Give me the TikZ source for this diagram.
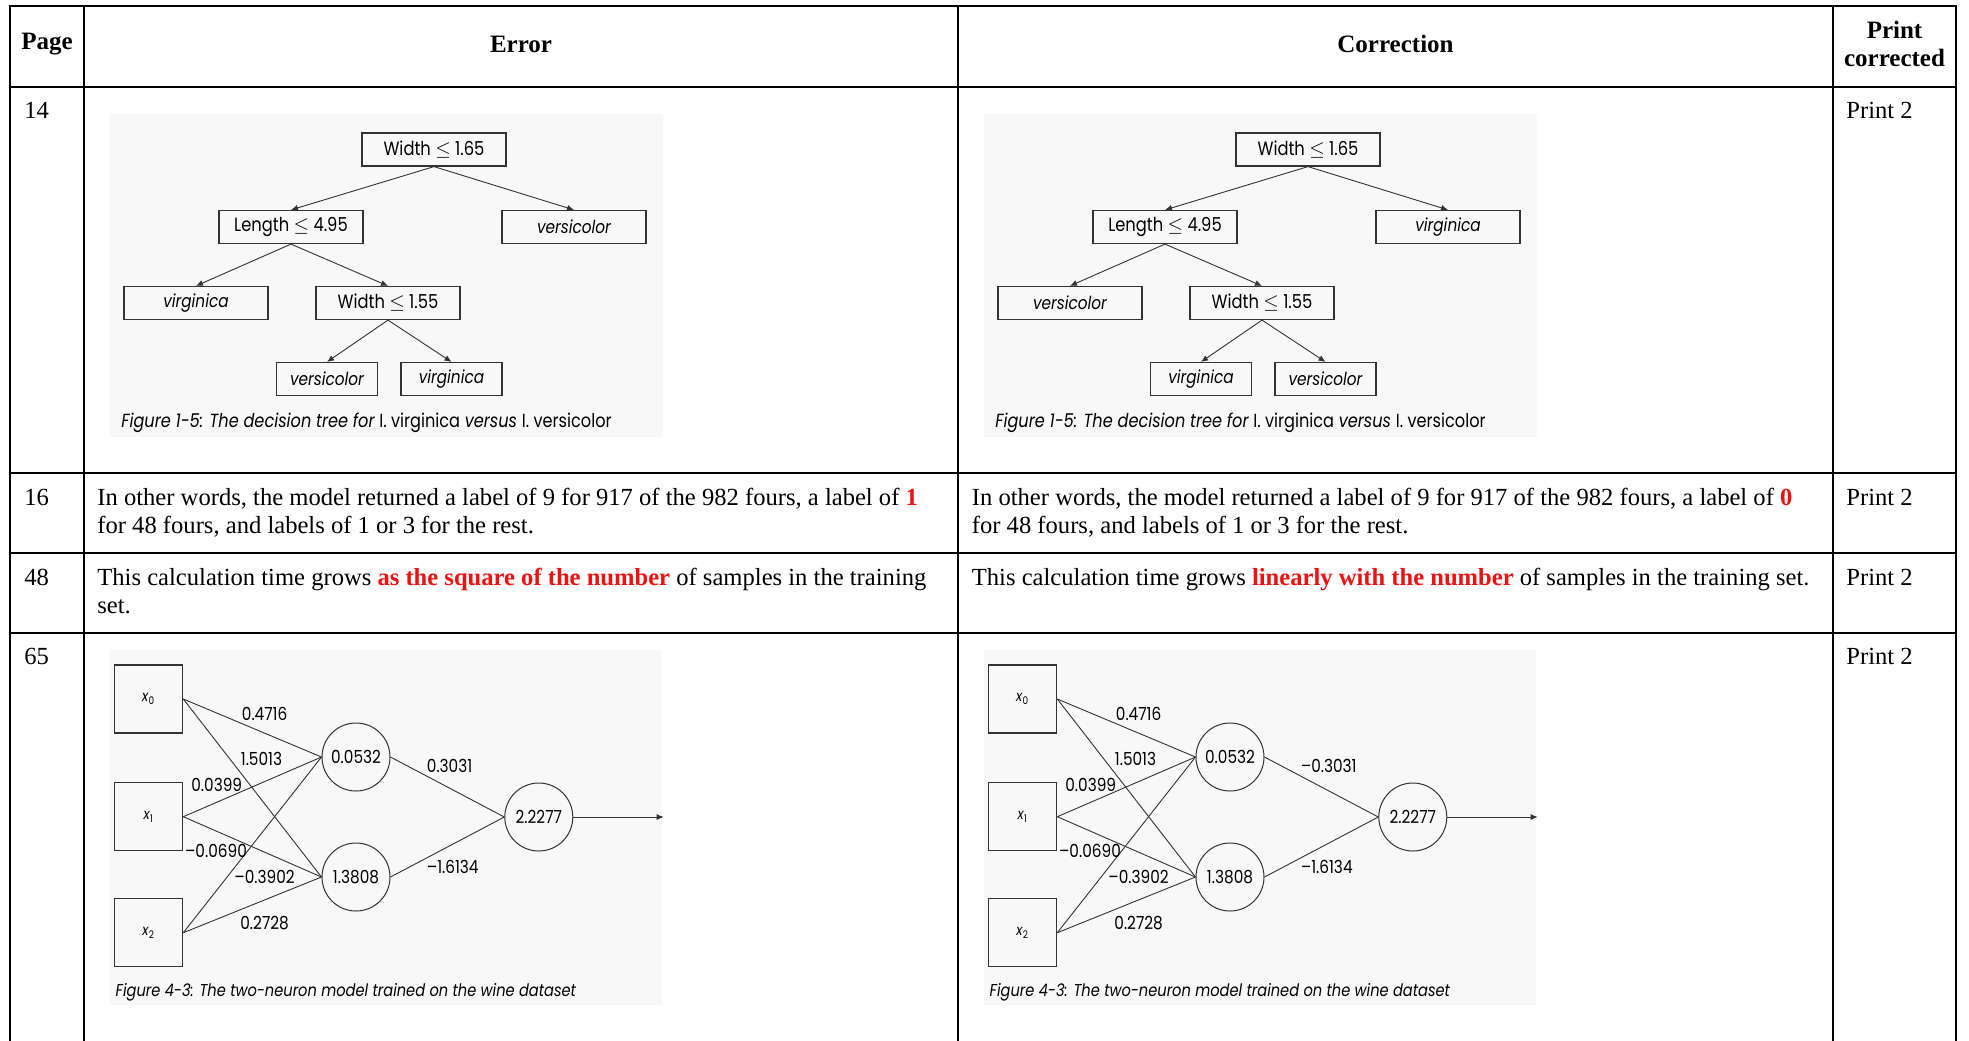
\documentclass[tikz,border=0pt]{standalone}
\usepackage{fontspec}
\setmainfont{Liberation Serif}
\newfontfamily\figfont[FakeStretch=0.85]{Poppins}
\usepackage{xcolor}
\definecolor{cRule}{HTML}{000000}
\definecolor{cRed}{HTML}{EE1111}
\definecolor{cFig}{HTML}{333333}
\definecolor{cFigBg}{HTML}{F8F8F8}
\usepackage{tikz}
\usetikzlibrary{positioning,arrows.meta}
\tikzset{
  table-rule/.style={draw=cRule,line width=1.4pt,line cap=rect},
  head-text/.style={font=\bfseries\fontsize{12.5}{14}\selectfont,align=center,inner sep=0pt},
  cell-text/.style={font=\fontsize{12.3}{14}\selectfont,align=left,anchor=base west,inner sep=0pt},
  fig-bg/.style={fill=cFigBg,draw=none},
  fig-box/.style={draw=cFig,line width=0.6pt,minimum width=72pt,minimum height=16.5pt,
    inner sep=0pt,font=\figfont\fontsize{9.6}{10}\selectfont},
  fig-leaf/.style={fig-box,font=\figfont\itshape\fontsize{9}{10}\selectfont},
  fig-small/.style={minimum width=50.5pt},
  fig-input/.style={draw=cFig,line width=0.6pt,minimum size=34pt,inner sep=0pt,
    font=\figfont\fontsize{7.5}{8}\selectfont},
  fig-neuron/.style={draw=cFig,line width=0.5pt,circle,minimum size=34pt,inner sep=0pt,
    font=\figfont\fontsize{9}{10}\selectfont},
  fig-edge/.style={draw=cFig,line width=0.45pt},
  fig-arrow/.style={fig-edge,-{Latex[length=3.5pt,width=3pt]}},
  fig-weight/.style={font=\figfont\fontsize{9}{10}\selectfont,inner sep=0pt},
  fig-caption/.style={font=\figfont\itshape\fontsize{8.6}{10}\selectfont,anchor=west,inner sep=0pt},
}

\begin{document}
\begin{tikzpicture}[x=0.5pt,y=-0.5pt]
  \useasboundingbox (0,0) rectangle (1969,1040);
  % table rules
  \foreach \y in {6,87,473,553,633}
    \draw[table-rule] (10,\y) -- (1956,\y);
  \foreach \x in {10,84,958,1833,1956}
    \draw[table-rule] (\x,6) -- (\x,1040);

  % header
  \node[head-text] (h-page)  at (47,44)     {Page};
  \node[head-text] (h-err)   at (521,44)    {Error};
  \node[head-text] (h-cor)   at (1395.5,44) {Correction};
  \node[head-text] (h-print) at (1894.5,44) {Print\\corrected};

  % rows (two-line cells sit on their last baseline)
  \node[cell-text] (p14) at (24,118)   {14};
  \node[cell-text] (r14) at (1846,118) {Print 2};
  \node[cell-text] (p16) at (24,505)   {16};
  \node[cell-text] (e16) at (97,533)
    {In other words, the model returned a label of 9 for 917 of the 982 fours, a label of \textcolor{cRed}{\textbf{1}}\\for 48 fours, and labels of 1 or 3 for the rest.};
  \node[cell-text] (c16) at (971.5,533)
    {In other words, the model returned a label of 9 for 917 of the 982 fours, a label of \textcolor{cRed}{\textbf{0}}\\for 48 fours, and labels of 1 or 3 for the rest.};
  \node[cell-text] (r16) at (1846,505) {Print 2};
  \node[cell-text] (p48) at (24,585)   {48};
  \node[cell-text] (e48) at (97,613)
    {This calculation time grows \textcolor{cRed}{\textbf{as the square of the number}} of samples in the training\\set.};
  \node[cell-text] (c48) at (971.5,585)
    {This calculation time grows \textcolor{cRed}{\textbf{linearly with the number}} of samples in the training set.};
  \node[cell-text] (r48) at (1846,585) {Print 2};
  \node[cell-text] (p65) at (24,664)   {65};
  \node[cell-text] (r65) at (1846,664) {Print 2};

  % decision tree, error column
  \fill[fig-bg] (110,114) rectangle (663,437);
  \node[fig-box]  (e-root) at (434,149.5) {Width $\le$ 1.65};
  \node[fig-box]  (e-len)  at (291,227)   {Length $\le$ 4.95};
  \node[fig-leaf] (e-lfR)  at (574,227)   {versicolor};
  \node[fig-leaf] (e-lfL)  at (196,303)   {virginica};
  \node[fig-box]  (e-wid)  at (388,303)   {Width $\le$ 1.55};
  \node[fig-leaf,fig-small] (e-lfA) at (327,379)   {versicolor};
  \node[fig-leaf,fig-small] (e-lfB) at (451.5,379) {virginica};
  \draw[fig-arrow] (e-root.south) -- (e-len.north);
  \draw[fig-arrow] (e-root.south) -- (e-lfR.north);
  \draw[fig-arrow] (e-len.south) -- (e-lfL.north);
  \draw[fig-arrow] (e-len.south) -- (e-wid.north);
  \draw[fig-arrow] (e-wid.south) -- (e-lfA.north);
  \draw[fig-arrow] (e-wid.south) -- (e-lfB.north);
  \node[fig-caption,font=\figfont\itshape\fontsize{9.5}{10}\selectfont] (e-cap1) at (121,423)
    {Figure 1-5: The decision tree for {\upshape I. virginica} versus {\upshape I. versicolor}};

  % decision tree, correction column
  \fill[fig-bg] (984,114) rectangle (1537,437);
  \node[fig-box]  (c-root) at (1308,149.5) {Width $\le$ 1.65};
  \node[fig-box]  (c-len)  at (1165,227)   {Length $\le$ 4.95};
  \node[fig-leaf] (c-lfR)  at (1448,227)   {virginica};
  \node[fig-leaf] (c-lfL)  at (1070,303)   {versicolor};
  \node[fig-box]  (c-wid)  at (1262,303)   {Width $\le$ 1.55};
  \node[fig-leaf,fig-small] (c-lfA) at (1201,379)   {virginica};
  \node[fig-leaf,fig-small] (c-lfB) at (1325.5,379) {versicolor};
  \draw[fig-arrow] (c-root.south) -- (c-len.north);
  \draw[fig-arrow] (c-root.south) -- (c-lfR.north);
  \draw[fig-arrow] (c-len.south) -- (c-lfL.north);
  \draw[fig-arrow] (c-len.south) -- (c-wid.north);
  \draw[fig-arrow] (c-wid.south) -- (c-lfA.north);
  \draw[fig-arrow] (c-wid.south) -- (c-lfB.north);
  \node[fig-caption,font=\figfont\itshape\fontsize{9.5}{10}\selectfont] (c-cap1) at (995,423)
    {Figure 1-5: The decision tree for {\upshape I. virginica} versus {\upshape I. versicolor}};

  % network, error column
  \fill[fig-bg] (110,650) rectangle (662,1005);
  \node[fig-input]  (e-x0)  at (148.7,699)   {\textit{x}\textsubscript{0}};
  \node[fig-input]  (e-x1)  at (148.7,816.7) {\textit{x}\textsubscript{1}};
  \node[fig-input]  (e-x2)  at (148.7,932.7) {\textit{x}\textsubscript{2}};
  \node[fig-neuron] (e-h0)  at (356,757)     {0.0532};
  \node[fig-neuron] (e-h1)  at (356,877)     {1.3808};
  \node[fig-neuron] (e-out) at (538.8,817)   {2.2277};
  \coordinate (e-end) at (663.7,817);
  \draw[fig-edge] (e-x0.east) -- (e-h0.west);
  \draw[fig-edge] (e-x0.east) -- (e-h1.west);
  \draw[fig-edge] (e-x1.east) -- (e-h0.west);
  \draw[fig-edge] (e-x1.east) -- (e-h1.west);
  \draw[fig-edge] (e-x2.east) -- (e-h0.west);
  \draw[fig-edge] (e-x2.east) -- (e-h1.west);
  \draw[fig-edge] (e-h0.east) -- (e-out.west);
  \draw[fig-edge] (e-h1.east) -- (e-out.west);
  \draw[fig-arrow] (e-out.east) -- (e-end);
  \node[fig-weight] (e-w00) at (264.6,714)   {0.4716};
  \node[fig-weight] (e-w01) at (261.5,759)   {1.5013};
  \node[fig-weight] (e-w10) at (216.7,785)   {0.0399};
  \node[fig-weight] (e-w11) at (216,851.3)   {–0.0690};
  \node[fig-weight] (e-w20) at (264.6,877.3) {–0.3902};
  \node[fig-weight] (e-w21) at (264.6,923.3) {0.2728};
  \node[fig-weight,anchor=west] (e-v0) at (426.5,766)   {0.3031};
  \node[fig-weight,anchor=west] (e-v1) at (426.5,866.7) {–1.6134};
  \node[fig-caption] (e-cap2) at (115.3,992.3)
    {Figure 4-3: The two-neuron model trained on the wine dataset};

  % network, correction column
  \fill[fig-bg] (984,650) rectangle (1536,1005);
  \node[fig-input]  (c-x0)  at (1022.7,699)   {\textit{x}\textsubscript{0}};
  \node[fig-input]  (c-x1)  at (1022.7,816.7) {\textit{x}\textsubscript{1}};
  \node[fig-input]  (c-x2)  at (1022.7,932.7) {\textit{x}\textsubscript{2}};
  \node[fig-neuron] (c-h0)  at (1230,757)     {0.0532};
  \node[fig-neuron] (c-h1)  at (1230,877)     {1.3808};
  \node[fig-neuron] (c-out) at (1412.8,817)   {2.2277};
  \coordinate (c-end) at (1537.7,817);
  \draw[fig-edge] (c-x0.east) -- (c-h0.west);
  \draw[fig-edge] (c-x0.east) -- (c-h1.west);
  \draw[fig-edge] (c-x1.east) -- (c-h0.west);
  \draw[fig-edge] (c-x1.east) -- (c-h1.west);
  \draw[fig-edge] (c-x2.east) -- (c-h0.west);
  \draw[fig-edge] (c-x2.east) -- (c-h1.west);
  \draw[fig-edge] (c-h0.east) -- (c-out.west);
  \draw[fig-edge] (c-h1.east) -- (c-out.west);
  \draw[fig-arrow] (c-out.east) -- (c-end);
  \node[fig-weight] (c-w00) at (1138.6,714)   {0.4716};
  \node[fig-weight] (c-w01) at (1135.5,759)   {1.5013};
  \node[fig-weight] (c-w10) at (1090.7,785)   {0.0399};
  \node[fig-weight] (c-w11) at (1090,851.3)   {–0.0690};
  \node[fig-weight] (c-w20) at (1138.6,877.3) {–0.3902};
  \node[fig-weight] (c-w21) at (1138.6,923.3) {0.2728};
  \node[fig-weight,anchor=west] (c-v0) at (1300.5,766)   {–0.3031};
  \node[fig-weight,anchor=west] (c-v1) at (1300.5,866.7) {–1.6134};
  \node[fig-caption] (c-cap2) at (989.3,992.3)
    {Figure 4-3: The two-neuron model trained on the wine dataset};
\end{tikzpicture}
\end{document}
